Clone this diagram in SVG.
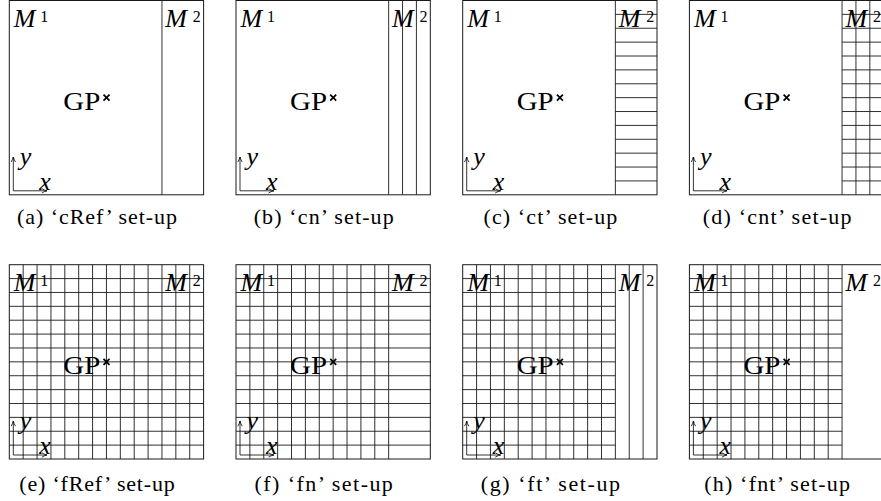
<svg xmlns="http://www.w3.org/2000/svg" xmlns:xlink="http://www.w3.org/1999/xlink" width="881" height="501" viewBox="0 0 881 501">
<style>
.box{fill:none;stroke:#1a1a1a;stroke-width:1}
.grid{fill:none;stroke:#1a1a1a;stroke-width:0.9}
.ax{fill:none;stroke:#000;stroke-width:0.8}
.mi{font-family:"Liberation Serif",serif;font-style:italic;font-size:26px;fill:#000}
.sup{font-family:"Liberation Serif",serif;font-size:16px;fill:#000}
.gp{font-family:"Liberation Serif",serif;font-size:26px;fill:#000}
.cap{font-family:"Liberation Serif",serif;font-size:22px;fill:#000;text-anchor:middle}
.cross{stroke:#000;stroke-width:1.7;fill:none}
</style>
<defs>
<marker id="arr" viewBox="0 0 6 6" refX="5.5" refY="3" markerWidth="6" markerHeight="6" markerUnits="userSpaceOnUse" orient="auto">
<path d="M0.5 0.8Q3 2.5 6 3Q3 3.5 0.5 5.2" fill="none" stroke="#000" stroke-width="0.8"/>
</marker>
<path id="div" d="M152.66 0V194.3"/>
<path id="vM1" d="M13.88 0V194.3M27.76 0V194.3M41.64 0V194.3M55.51 0V194.3M69.39 0V194.3M83.27 0V194.3M97.15 0V194.3M111.03 0V194.3M124.91 0V194.3M138.79 0V194.3M152.66 0V194.3"/>
<path id="vM2" d="M166.54 0V194.3M180.42 0V194.3"/>
<path id="hM1" d="M0 13.88H152.66M0 27.76H152.66M0 41.64H152.66M0 55.51H152.66M0 69.39H152.66M0 83.27H152.66M0 97.15H152.66M0 111.03H152.66M0 124.91H152.66M0 138.79H152.66M0 152.66H152.66M0 166.54H152.66M0 180.42H152.66"/>
<path id="hM2" d="M152.66 13.88H194.3M152.66 27.76H194.3M152.66 41.64H194.3M152.66 55.51H194.3M152.66 69.39H194.3M152.66 83.27H194.3M152.66 97.15H194.3M152.66 111.03H194.3M152.66 124.91H194.3M152.66 138.79H194.3M152.66 152.66H194.3M152.66 166.54H194.3M152.66 180.42H194.3"/>
<g id="labels">
<text class="mi" x="4.5" y="26.2">M</text>
<text class="sup" x="31" y="21">1</text>
<text class="mi" x="156" y="26.2">M</text>
<text class="sup" x="183.5" y="21">2</text>
<text class="gp" x="91" y="109.5" text-anchor="end" textLength="37" lengthAdjust="spacingAndGlyphs">GP</text>
<path class="cross" d="M94.2 94.2l6 6M100.2 94.2l-6 6"/>
<path class="ax" d="M4 190.3V156.5" marker-end="url(#arr)"/>
<path class="ax" d="M4 190.3H37.5" marker-end="url(#arr)"/>
<text class="mi" x="10.5" y="164.5">y</text>
<text class="mi" x="30" y="189.5">x</text>
</g>
</defs>

<g id="panel-a" transform="translate(9.3,0.5)">
<rect class="box" x="0" y="0" width="194.3" height="194.3"/>
<use href="#div" class="grid"/>
<use href="#labels"/>
<text class="cap" x="87.7" y="223" textLength="159.8" lengthAdjust="spacing">(a) ‘cRef’ set-up</text>
</g>

<g id="panel-b" transform="translate(236,0.5)">
<rect class="box" x="0" y="0" width="194.3" height="194.3"/>
<use href="#div" class="grid"/>
<use href="#vM2" class="grid"/>
<use href="#labels"/>
<text class="cap" x="87.7" y="223" textLength="140.1" lengthAdjust="spacing">(b) ‘cn’ set-up</text>
</g>

<g id="panel-c" transform="translate(462.7,0.5)">
<rect class="box" x="0" y="0" width="194.3" height="194.3"/>
<use href="#div" class="grid"/>
<use href="#hM2" class="grid"/>
<use href="#labels"/>
<text class="cap" x="87.7" y="223" textLength="133.9" lengthAdjust="spacing">(c) ‘ct’ set-up</text>
</g>

<g id="panel-d" transform="translate(689.4,0.5)">
<rect class="box" x="0" y="0" width="194.3" height="194.3"/>
<use href="#div" class="grid"/>
<use href="#vM2" class="grid"/>
<use href="#hM2" class="grid"/>
<use href="#labels"/>
<text class="cap" x="87.7" y="223" textLength="148.9" lengthAdjust="spacing">(d) ‘cnt’ set-up</text>
</g>

<g id="panel-e" transform="translate(9.3,264.7)">
<rect class="box" x="0" y="0" width="194.3" height="194.3"/>
<use href="#vM1" class="grid"/>
<use href="#vM2" class="grid"/>
<use href="#hM1" class="grid"/>
<use href="#hM2" class="grid"/>
<use href="#labels"/>
<text class="cap" x="87.7" y="226" textLength="155.4" lengthAdjust="spacing">(e) ‘fRef’ set-up</text>
</g>

<g id="panel-f" transform="translate(236,264.7)">
<rect class="box" x="0" y="0" width="194.3" height="194.3"/>
<use href="#vM1" class="grid"/>
<use href="#hM1" class="grid"/>
<use href="#hM2" class="grid"/>
<use href="#labels"/>
<text class="cap" x="87.7" y="226" textLength="138.3" lengthAdjust="spacing">(f) ‘fn’ set-up</text>
</g>

<g id="panel-g" transform="translate(462.7,264.7)">
<rect class="box" x="0" y="0" width="194.3" height="194.3"/>
<use href="#vM1" class="grid"/>
<use href="#vM2" class="grid"/>
<use href="#hM1" class="grid"/>
<use href="#labels"/>
<text class="cap" x="87.7" y="226" textLength="139.3" lengthAdjust="spacing">(g) ‘ft’ set-up</text>
</g>

<g id="panel-h" transform="translate(689.4,264.7)">
<rect class="box" x="0" y="0" width="194.3" height="194.3"/>
<use href="#vM1" class="grid"/>
<use href="#hM1" class="grid"/>
<use href="#labels"/>
<text class="cap" x="87.7" y="226" textLength="145.8" lengthAdjust="spacing">(h) ‘fnt’ set-up</text>
</g>

<g id="connectors"></g>
</svg>
